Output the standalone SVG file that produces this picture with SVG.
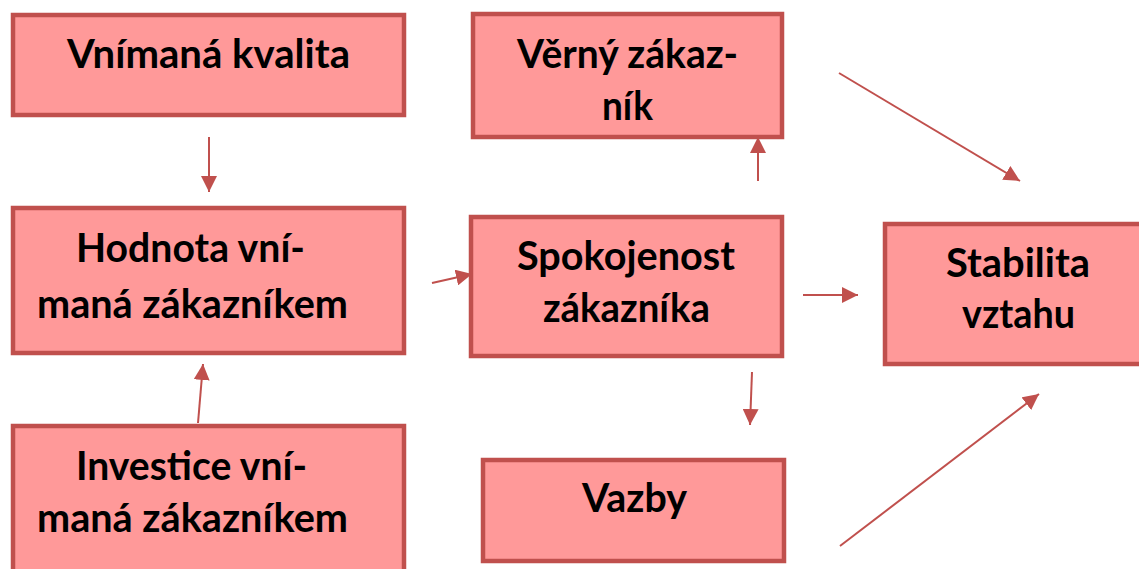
<svg xmlns="http://www.w3.org/2000/svg" width="1139" height="569" viewBox="0 0 1139 569">
<style>
.box{fill:#FF9999;stroke:#C0504D;stroke-width:4.5}
.t{font-family:Lato,"Open Sans","Liberation Sans",sans-serif;font-weight:bold;font-size:40px;fill:#000}
.c{stroke:#C0504D;stroke-width:2;fill:none;marker-end:url(#ah)}
</style>
<defs>
<marker id="ah" markerUnits="userSpaceOnUse" markerWidth="16" markerHeight="16" refX="16" refY="8" orient="auto">
<path d="M0,0 L16,8 L0,16 Z" fill="#C0504D"/>
</marker>
</defs>
<rect width="1139" height="569" fill="#fff"/>
<g id="connectors">
<line class="c" x1="209" y1="137" x2="209" y2="192"/>
<line class="c" x1="198" y1="423" x2="203" y2="364"/>
<line class="c" x1="432" y1="283" x2="472" y2="274"/>
<line class="c" x1="758" y1="181" x2="758" y2="137"/>
<line class="c" x1="803" y1="295" x2="858" y2="295"/>
<line class="c" x1="839" y1="73" x2="1020" y2="181"/>
<line class="c" x1="752" y1="372" x2="750" y2="425"/>
<line class="c" x1="840" y1="546" x2="1039" y2="394"/>
</g>
<g id="n-kvalita">
<rect class="box" x="13" y="15" width="391" height="100"/>
<text class="t" x="67" y="68" textLength="283" lengthAdjust="spacingAndGlyphs">Vnímaná kvalita</text>
</g>
<g id="n-hodnota">
<rect class="box" x="13" y="208" width="391" height="145"/>
<text class="t" x="76" y="262" textLength="229" lengthAdjust="spacingAndGlyphs">Hodnota vní-</text>
<text class="t" x="37" y="318" textLength="311" lengthAdjust="spacingAndGlyphs">maná zákazníkem</text>
</g>
<g id="n-investice">
<rect class="box" x="13" y="426" width="391" height="160"/>
<text class="t" x="76" y="480" textLength="231" lengthAdjust="spacingAndGlyphs">Investice vní-</text>
<text class="t" x="37" y="532" textLength="311" lengthAdjust="spacingAndGlyphs">maná zákazníkem</text>
</g>
<g id="n-verny">
<rect class="box" x="473" y="14" width="309" height="123"/>
<text class="t" x="517" y="68" textLength="221" lengthAdjust="spacingAndGlyphs">Věrný zákaz-</text>
<text class="t" x="602" y="120" textLength="51" lengthAdjust="spacingAndGlyphs">ník</text>
</g>
<g id="n-spokojenost">
<rect class="box" x="471" y="217" width="311" height="139"/>
<text class="t" x="517" y="270" textLength="218" lengthAdjust="spacingAndGlyphs">Spokojenost</text>
<text class="t" x="543" y="322" textLength="167" lengthAdjust="spacingAndGlyphs">zákazníka</text>
</g>
<g id="n-vazby">
<rect class="box" x="483" y="460" width="301" height="101"/>
<text class="t" x="582" y="512" textLength="105" lengthAdjust="spacingAndGlyphs">Vazby</text>
</g>
<g id="n-stabilita">
<rect class="box" x="885" y="224" width="270" height="140"/>
<text class="t" x="946" y="277" textLength="144" lengthAdjust="spacingAndGlyphs">Stabilita</text>
<text class="t" x="962" y="328" textLength="113" lengthAdjust="spacingAndGlyphs">vztahu</text>
</g>
</svg>
